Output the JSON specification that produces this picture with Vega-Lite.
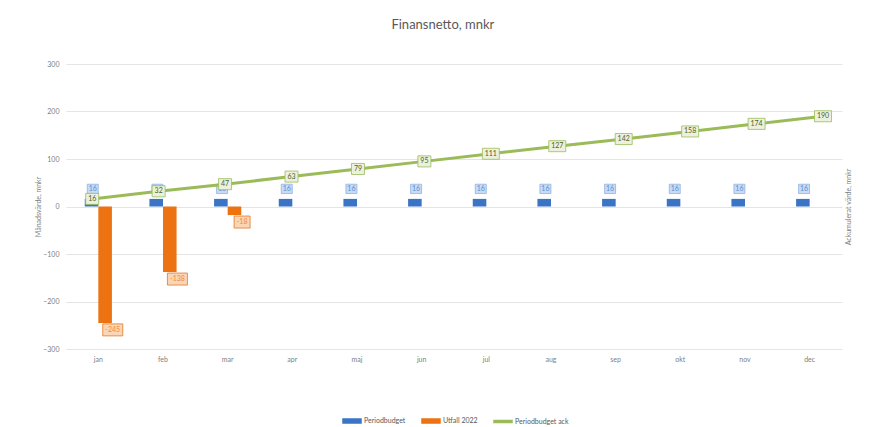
{
  "$schema": "https://vega.github.io/schema/vega-lite/v6.json",
  "width": 776,
  "height": 285,
  "padding": {"left": 34, "top": 19, "right": 31, "bottom": 0},
  "background": "white",
  "title": {"text": "Finansnetto, mnkr", "fontSize": 13, "font": "Lato", "fontWeight": "normal", "color": "#595959", "anchor": "middle", "frame": "bounds", "offset": 28},
  "config": {
    "view": {"stroke": null},
    "font": "Lato",
    "axis": {"labelFont": "Lato", "titleFont": "Lato", "labelFontSize": 7, "titleFontSize": 7, "labelColor": "#808080", "titleColor": "#808080", "titleFontWeight": "normal", "ticks": false, "domain": false, "gridColor": "#e4e4e4", "gridWidth": 1}
  },
  "datasets": {
    "bars": [
      {"month": "jan", "series": "Periodbudget", "value": 16},
      {"month": "jan", "series": "Utfall 2022", "value": -245},
      {"month": "feb", "series": "Periodbudget", "value": 16},
      {"month": "feb", "series": "Utfall 2022", "value": -138},
      {"month": "mar", "series": "Periodbudget", "value": 16},
      {"month": "mar", "series": "Utfall 2022", "value": -18},
      {"month": "apr", "series": "Periodbudget", "value": 16},
      {"month": "maj", "series": "Periodbudget", "value": 16},
      {"month": "jun", "series": "Periodbudget", "value": 16},
      {"month": "jul", "series": "Periodbudget", "value": 16},
      {"month": "aug", "series": "Periodbudget", "value": 16},
      {"month": "sep", "series": "Periodbudget", "value": 16},
      {"month": "okt", "series": "Periodbudget", "value": 16},
      {"month": "nov", "series": "Periodbudget", "value": 16},
      {"month": "dec", "series": "Periodbudget", "value": 16}
    ],
    "ack": [
      {"month": "jan", "value": 16},
      {"month": "feb", "value": 32},
      {"month": "mar", "value": 47},
      {"month": "apr", "value": 63},
      {"month": "maj", "value": 79},
      {"month": "jun", "value": 95},
      {"month": "jul", "value": 111},
      {"month": "aug", "value": 127},
      {"month": "sep", "value": 142},
      {"month": "okt", "value": 158},
      {"month": "nov", "value": 174},
      {"month": "dec", "value": 190}
    ]
  },
  "layer": [
    {
      "data": {"name": "bars"},
      "encoding": {
        "x": {"field": "month", "type": "nominal", "sort": ["jan","feb","mar","apr","maj","jun","jul","aug","sep","okt","nov","dec"], "scale": {"paddingInner": 0.58, "paddingOuter": 0.29}, "axis": {"title": null, "labelAngle": 0, "labelPadding": 6, "grid": false}},
        "y": {"field": "value", "type": "quantitative", "scale": {"domain": [-300, 300]}, "axis": {"values": [-300,-200,-100,0,100,200,300], "title": "Månadsvärde, mnkr", "labelPadding": 7, "titlePadding": 1, "grid": true}}
      },
      "layer": [
        {
          "mark": {"type": "bar"},
          "encoding": {
            "xOffset": {"field": "series", "scale": {"domain": ["Periodbudget", "Utfall 2022"], "paddingInner": 0, "paddingOuter": 0}},
            "color": {"field": "series", "type": "nominal", "scale": {"domain": ["Periodbudget", "Utfall 2022", "Periodbudget ack"], "range": ["#3b74c4", "#ec7212", "#9bbb59"]},
              "legend": {"orient": "none", "legendX": 276, "legendY": 347, "direction": "horizontal", "title": null, "labelFontSize": 7, "labelColor": "#595959", "labelFont": "Lato", "symbolSize": 324, "columnPadding": 13, "labelOffset": 2,
                "encode": {"symbols": {"update": {"shape": {"signal": "datum.label === 'Periodbudget ack' ? 'M-1,-0.11H1V0.11H-1Z' : 'M-1,-0.22H1V0.22H-1Z'"}, "fill": {"scale": "color", "field": "value"}, "stroke": {"value": "transparent"}, "opacity": {"value": 1}, "fillOpacity": {"value": 1}}}}}}
          }
        },
        {
          "transform": [{"filter": "datum.series === 'Periodbudget'"}],
          "mark": {"type": "point", "shape": "M-1,-0.85H1V0.85H-1Z", "filled": true, "fill": "#c9dbf2", "stroke": "#8fb4e3", "strokeWidth": 0.8, "opacity": 1, "size": 121},
          "encoding": {"xOffset": {"value": 8}, "yOffset": {"value": -10}}
        },
        {
          "transform": [{"filter": "datum.series === 'Periodbudget'"}],
          "mark": {"type": "text", "fontSize": 7, "color": "#5a8fd6", "align": "center", "baseline": "middle"},
          "encoding": {"text": {"field": "value", "type": "nominal"}, "xOffset": {"value": 8}, "yOffset": {"value": -10}}
        },
        {
          "transform": [{"filter": "datum.series === 'Utfall 2022'"}],
          "mark": {"type": "point", "filled": true, "fill": "#fcd5b5", "stroke": "#e0782a", "strokeWidth": 0.8, "opacity": 1},
          "encoding": {
            "shape": {"condition": {"test": "datum.value <= -100", "value": "M-1,-0.6H1V0.6H-1Z"}, "value": "M-1,-0.75H1V0.75H-1Z"},
            "size": {"condition": {"test": "datum.value <= -100", "value": 400}, "value": 256},
            "xOffset": {"value": 28}, "yOffset": {"value": 7}}
        },
        {
          "transform": [{"filter": "datum.series === 'Utfall 2022'"}],
          "mark": {"type": "text", "fontSize": 7, "color": "#ef8a3a", "align": "center", "baseline": "middle"},
          "encoding": {"text": {"field": "value", "type": "nominal"}, "xOffset": {"value": 28}, "yOffset": {"value": 7}}
        }
      ]
    },
    {
      "data": {"name": "ack"},
      "encoding": {
        "x": {"field": "month", "type": "ordinal", "sort": ["jan","feb","mar","apr","maj","jun","jul","aug","sep","okt","nov","dec"], "scale": {"type": "point", "padding": 0.34, "align": 0.58}, "axis": null},
        "y": {"field": "value", "type": "quantitative", "scale": {"domain": [-300, 300]}, "axis": {"orient": "right", "title": "Ackumulerat värde, mnkr", "labels": false, "grid": false, "titleAngle": 270, "titlePadding": 9}}
      },
      "layer": [
        {
          "mark": {"type": "line", "strokeWidth": 3},
          "encoding": {"color": {"datum": "Periodbudget ack", "type": "nominal"}}
        },
        {
          "mark": {"type": "point", "filled": true, "fill": "#ebf1de", "stroke": "#9bbb59", "strokeWidth": 0.8, "opacity": 1},
          "encoding": {
            "shape": {"condition": {"test": "datum.value >= 100", "value": "M-1,-0.65H1V0.65H-1Z"}, "value": "M-1,-0.85H1V0.85H-1Z"},
            "size": {"condition": {"test": "datum.value >= 100", "value": 289}, "value": 169}
          }
        },
        {
          "mark": {"type": "text", "fontSize": 7, "color": "#4f6228", "align": "center", "baseline": "middle"},
          "encoding": {"text": {"field": "value", "type": "nominal"}}
        }
      ]
    }
  ],
  "resolve": {"scale": {"x": "independent", "y": "independent"}}
}
